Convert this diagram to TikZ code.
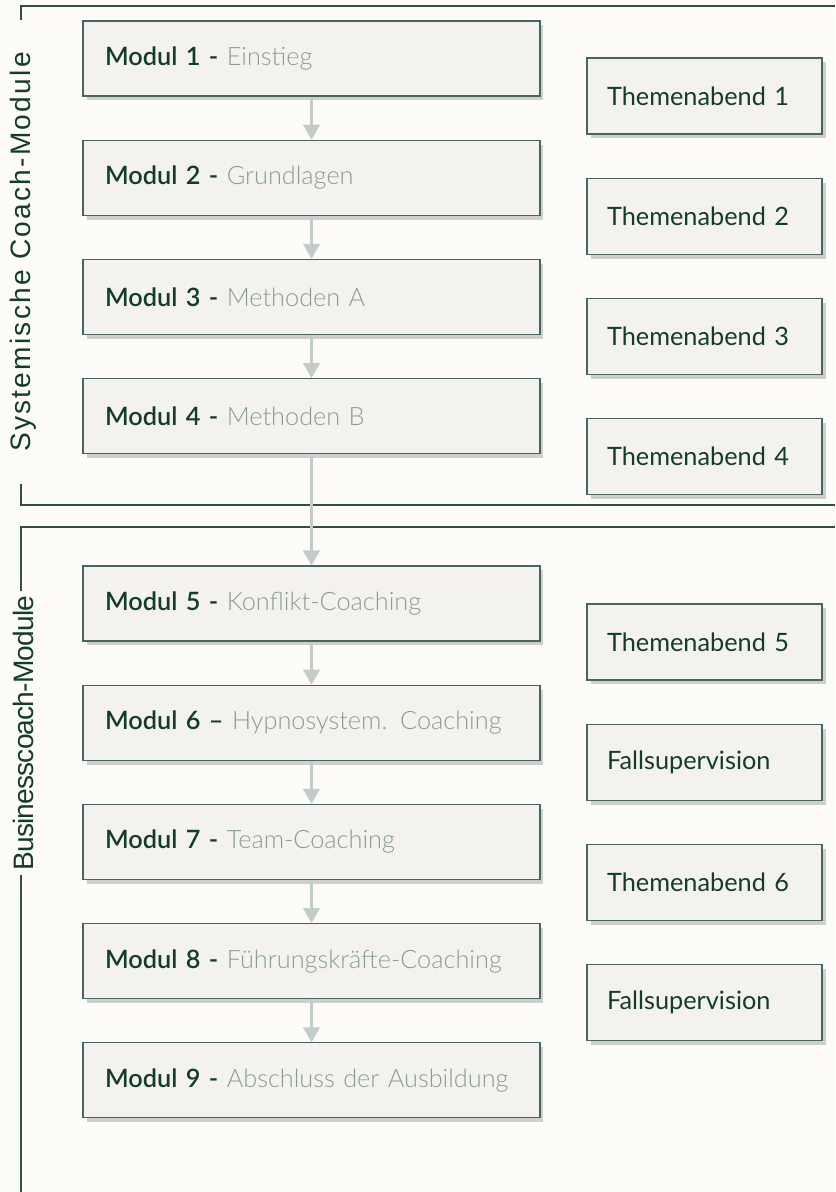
\documentclass[tikz,border=0pt]{standalone}
\usepackage{fontspec}
\setmainfont{Lato}
\newfontfamily\lightfont{Lato Light}
\newfontfamily\semifont{Lato Semibold}
\newfontfamily\labelfont[LetterSpace=-3]{Liberation Sans}
\newfontfamily\widelabelfont[LetterSpace=8]{Liberation Sans}
\usetikzlibrary{positioning,shadows,arrows.meta}

\definecolor{bgcream}{HTML}{FDFCF8}
\definecolor{boxfill}{HTML}{F3F2EF}
\definecolor{boxline}{HTML}{46675A}
\definecolor{frameline}{HTML}{2F5040}
\definecolor{textdark}{HTML}{123D2B}
\definecolor{textlight}{HTML}{8A9D93}
\definecolor{arrowgray}{HTML}{C3CCC8}

\newcommand{\modnr}[1]{{\semifont\color{textdark}#1}}

\tikzset{
  modbox/.style={draw=boxline, fill=boxfill, line width=0.7pt,
    text width=8.26cm, inner xsep=0.44cm, minimum height=1.5cm, align=left,
    font=\lightfont\fontsize{14.4}{17}\selectfont, text=textlight,
    drop shadow={shadow xshift=2pt, shadow yshift=-2.5pt, fill=black!45, opacity=0.4}},
  sidebox/.style={draw=boxline, fill=boxfill, line width=0.7pt,
    text width=3.9cm, inner xsep=0.4cm, minimum height=1.52cm, align=left,
    font=\fontsize{14.4}{17}\selectfont, text=textdark,
    drop shadow={shadow xshift=2pt, shadow yshift=-2.5pt, fill=black!45, opacity=0.4}},
  grouplabel/.style={rotate=90, fill=bgcream, inner xsep=0pt, inner ysep=4pt,
    font=\labelfont\fontsize{16}{19}\selectfont, text=textdark},
  frame/.style={draw=frameline, line width=0.7pt},
  flow/.style={draw=arrowgray, line width=1.2pt, -{Triangle[width=9.5pt,length=8.5pt]}},
}

\begin{document}
\begin{tikzpicture}[x=0.02cm,y=-0.02cm,node distance=0.86cm]
\useasboundingbox[fill=bgcream] (0,0) rectangle (835,1192);

% group frames
\draw[frame] (835,6) -- (21,6) -- (21,505) -- (835,505);
\draw[frame] (835,527) -- (21,527) -- (21,1192);

\node[grouplabel, minimum width=9.3cm, font=\widelabelfont\fontsize{16}{19}\selectfont]
  (lab1) at (23,252) {Systemische Coach-Module};
\node[grouplabel, minimum width=5.7cm] (lab2) at (23,733) {Businesscoach-Module};

% modules, first block
\node[modbox] (m1) at (311.5,58.5) {\modnr{Modul 1 -} Einstieg};
\node[modbox, below=of m1] (m2) {\modnr{Modul 2 -} Grundlagen};
\node[modbox, below=of m2] (m3) {\modnr{Modul 3 -} Methoden A};
\node[modbox, below=of m3] (m4) {\modnr{Modul 4 -} Methoden B};

% modules, second block
\node[modbox] (m5) at (311.5,603.5) {\modnr{Modul 5 -} Konflikt-Coaching};
\node[modbox, below=of m5] (m6) {\modnr{Modul 6 –} Hypnosystem. Coaching};
\node[modbox, below=of m6] (m7) {\modnr{Modul 7 -} Team-Coaching};
\node[modbox, below=of m7] (m8) {\modnr{Modul 8 -} Führungskräfte-Coaching};
\node[modbox, below=of m8] (m9) {\modnr{Modul 9 -} Abschluss der Ausbildung};

% evenings and supervision
\node[sidebox] (t1) at (704.5,96) {Themenabend 1};
\node[sidebox, below=of t1] (t2) {Themenabend 2};
\node[sidebox, below=of t2] (t3) {Themenabend 3};
\node[sidebox, below=of t3] (t4) {Themenabend 4};

\node[sidebox] (t5) at (704.5,642) {Themenabend 5};
\node[sidebox, below=of t5] (f1) {Fallsupervision};
\node[sidebox, below=of f1] (t6) {Themenabend 6};
\node[sidebox, below=of t6] (f2) {Fallsupervision};

% arrows
\foreach \a/\b in {m1/m2,m2/m3,m3/m4,m4/m5,m5/m6,m6/m7,m7/m8,m8/m9}
  \draw[flow] (\a) -- (\b);

\end{tikzpicture}
\end{document}
